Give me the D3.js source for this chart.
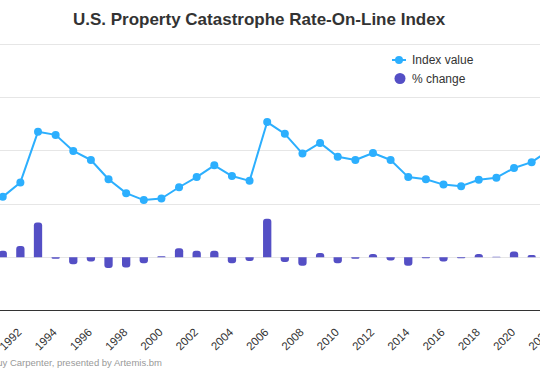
<!DOCTYPE html>
<html>
<head>
<meta charset="utf-8">
<script src="https://cdn.jsdelivr.net/npm/d3@7"></script>
<style>
  body { margin: 0; background: #fff; }
  svg { display: block; font-family: "Liberation Sans", Arial, Helvetica, sans-serif; }
</style>
</head>
<body>
<div id="chart"></div>
<script>
// Chart values (index 1990 = 100)
var years = [1990, 1991, 1992, 1993, 1994, 1995, 1996, 1997, 1998, 1999,
             2000, 2001, 2002, 2003, 2004, 2005, 2006, 2007, 2008, 2009,
             2010, 2011, 2012, 2013, 2014, 2015, 2016, 2017, 2018, 2019,
             2020, 2021, 2022];
var indexValues = [100, 113, 140, 235, 229, 199, 182, 146, 120, 107,
                   110, 131, 150, 172, 152, 143, 253, 231, 194, 214,
                   188, 182, 195, 182, 150, 146, 136, 133, 145, 149,
                   167, 178, 200];
var pctChange = [null, 12, 21, 65, -3, -13, -8, -20, -19, -11,
                 2, 17, 12, 12, -11, -7, 72, -9, -16, 8,
                 -11, -3, 6, -6, -16, -2, -8, -2, 6, 1,
                 11, 4, 12];
var tickYears = [1992, 1994, 1996, 1998, 2000, 2002, 2004, 2006, 2008, 2010,
                 2012, 2014, 2016, 2018, 2020, 2022];
var gridValues = [0, 100, 200, 300, 400];

var svgWidth = 540;
var svgHeight = 370;

var lineColor = "#2caffe";
var barColor = "#544fc5";

var svg = d3.select("#chart")
    .append("svg")
    .attr("width", svgWidth)
    .attr("height", svgHeight);

// The reference is a crop of a wider chart, so the plot runs past both edges
var xScale = d3.scaleBand()
    .domain(years)
    .range([-23.7, 558.1])
    .padding(0);

// Both series share the same vertical scale (index and % change)
var yScale = d3.scaleLinear()
    .domain([-100, 400])
    .range([310.7, 43.5]);

function xMid(year) {
    return xScale(year) + xScale.bandwidth() / 2;
}

// Gridlines
svg.append("g")
    .selectAll("line")
    .data(gridValues)
    .enter()
    .append("line")
    .attr("x1", 0)
    .attr("x2", svgWidth)
    .attr("y1", d => Math.round(yScale(d)) + 0.5)
    .attr("y2", d => Math.round(yScale(d)) + 0.5)
    .attr("stroke", "#e6e6e6")
    .attr("stroke-width", 1);

// Title
svg.append("text")
    .attr("x", 259)
    .attr("y", 25)
    .attr("text-anchor", "middle")
    .attr("font-size", "17px")
    .attr("font-weight", "bold")
    .attr("fill", "#333333")
    .text("U.S. Property Catastrophe Rate-On-Line Index");

// Bars with a rounded end away from zero
var barWidth = 8.3;
function barPath(d, i) {
    var x0 = xMid(years[i]) - barWidth / 2;
    var y0 = yScale(0);
    var y1 = yScale(d);
    var h = Math.abs(y1 - y0);
    var r = Math.min(3, h, barWidth / 2);
    var s = y1 < y0 ? 1 : -1;
    return "M" + x0 + "," + y0 +
        "L" + x0 + "," + (y1 + s * r) +
        "Q" + x0 + "," + y1 + " " + (x0 + r) + "," + y1 +
        "L" + (x0 + barWidth - r) + "," + y1 +
        "Q" + (x0 + barWidth) + "," + y1 + " " + (x0 + barWidth) + "," + (y1 + s * r) +
        "L" + (x0 + barWidth) + "," + y0 + "Z";
}

var barGroup = svg.append("g");
pctChange.forEach(function(d, i) {
    if (d === null) return;
    barGroup.append("path")
        .attr("d", barPath(d, i))
        .attr("fill", barColor);
});

// X axis line
svg.append("line")
    .attr("x1", 0)
    .attr("x2", svgWidth)
    .attr("y1", 310.5)
    .attr("y2", 310.5)
    .attr("stroke", "#333333")
    .attr("stroke-width", 1);

// Index line
var line = d3.line()
    .x((d, i) => xMid(years[i]))
    .y(d => yScale(d));

svg.append("path")
    .datum(indexValues)
    .attr("d", line)
    .attr("fill", "none")
    .attr("stroke", lineColor)
    .attr("stroke-width", 2)
    .attr("stroke-linejoin", "round");

svg.append("g")
    .selectAll("circle")
    .data(indexValues)
    .enter()
    .append("circle")
    .attr("cx", (d, i) => xMid(years[i]))
    .attr("cy", d => yScale(d))
    .attr("r", 4)
    .attr("fill", lineColor);

// X axis labels, rotated
svg.append("g")
    .selectAll("text")
    .data(tickYears)
    .enter()
    .append("text")
    .attr("transform", d => `translate(${xMid(d) + 2}, 333) rotate(-45)`)
    .attr("text-anchor", "end")
    .attr("font-size", "11.5px")
    .attr("fill", "#333333")
    .text(d => d);

// Legend
var legend = svg.append("g");
legend.append("line")
    .attr("x1", 392)
    .attr("x2", 406)
    .attr("y1", 60)
    .attr("y2", 60)
    .attr("stroke", lineColor)
    .attr("stroke-width", 2);
legend.append("circle")
    .attr("cx", 399)
    .attr("cy", 60)
    .attr("r", 4)
    .attr("fill", lineColor);
legend.append("text")
    .attr("x", 412)
    .attr("y", 64)
    .attr("font-size", "12px")
    .attr("fill", "#333333")
    .text("Index value");
legend.append("circle")
    .attr("cx", 400)
    .attr("cy", 78.5)
    .attr("r", 5.5)
    .attr("fill", barColor);
legend.append("text")
    .attr("x", 412)
    .attr("y", 82.5)
    .attr("font-size", "12px")
    .attr("fill", "#333333")
    .text("% change");

// Source text
svg.append("text")
    .attr("x", 162)
    .attr("y", 366)
    .attr("text-anchor", "end")
    .attr("font-size", "9.5px")
    .attr("fill", "#999999")
    .text("Source: Guy Carpenter, presented by Artemis.bm");
</script>
</body>
</html>
